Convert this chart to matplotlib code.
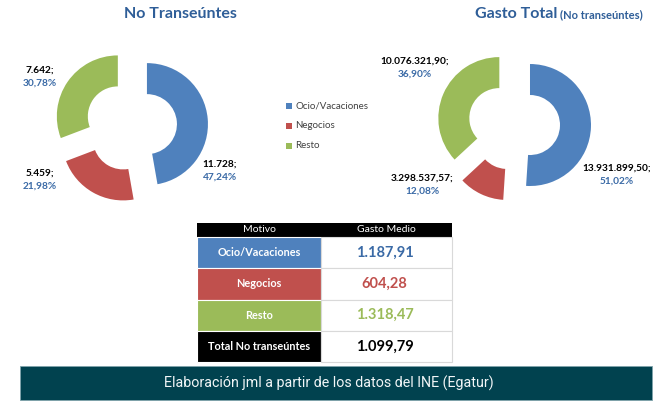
import matplotlib
matplotlib.use("Agg")
import matplotlib.pyplot as plt
from matplotlib.patches import Rectangle

# ---- data ----
categories = ["Ocio/Vacaciones", "Negocios", "Resto"]
visitors = [11728, 5459, 7642]
visitor_labels = ["11.728;", "5.459;", "7.642;"]
visitor_pct = ["47,24%", "21,98%", "30,78%"]
spend = [13931899.50, 3298537.57, 10076321.90]
spend_labels = ["13.931.899,50;", "3.298.537,57;", "10.076.321,90;"]
spend_pct = ["51,02%", "12,08%", "36,90%"]
table_rows = ["Ocio/Vacaciones", "Negocios", "Resto", "Total No transeúntes"]
table_values = ["1.187,91", "604,28", "1.318,47", "1.099,79"]
table_header = ["Motivo", "Gasto Medio"]
source_text = "Elaboración jml a partir de los datos del INE (Egatur)"

# ---- style ----
colors = ["#4F81BD", "#C0504D", "#9BBB59"]
title_blue = "#2F5E98"
pct_blue = "#3A6AA6"
FONT = ["Lato", "DejaVu Sans"]
plt.rcParams["font.family"] = FONT

W, H = 672, 403
fig = plt.figure(figsize=(W / 100, H / 100), dpi=100)
ax = fig.add_axes([0, 0, 1, 1])

def Y(y):
    return H - y

R = 61
WIDTH = 31
EXP = 16

# left donut
ax.pie(visitors, center=(131, Y(125.5)), radius=R, startangle=90, counterclock=False,
       colors=colors, explode=[EXP] * 3, wedgeprops=dict(width=WIDTH, linewidth=0),
       frame=True)
# right donut
ax.pie(spend, center=(514, Y(124.5)), radius=R, startangle=90, counterclock=False,
       colors=colors, explode=[EXP] * 3, wedgeprops=dict(width=WIDTH, linewidth=0),
       frame=True)

ax.set_xlim(0, W)
ax.set_ylim(0, H)
ax.set_aspect("auto")
ax.axis("off")

# titles
ax.text(180, Y(14), "No Transeúntes", ha="center", va="center", fontsize=11.5,
        fontweight="bold", color=title_blue)
ax.text(557, Y(14), "Gasto Total", ha="right", va="center", fontsize=11.5,
        fontweight="bold", color=title_blue)
ax.text(560, Y(15), "(No transeúntes)", ha="left", va="center", fontsize=8,
        fontweight="bold", color=title_blue)

# data labels
lpos_left = [(220, 164), (40, 173), (40, 70)]
lpos_right = [(617, 168), (422, 178), (415, 61)]
for (x, y), a, b in zip(lpos_left, visitor_labels, visitor_pct):
    ax.text(x, Y(y), a, ha="center", va="center", fontsize=7.3, fontweight="bold", color="black")
    ax.text(x, Y(y + 13), b, ha="center", va="center", fontsize=7.3, fontweight="bold", color=pct_blue)
for (x, y), a, b in zip(lpos_right, spend_labels, spend_pct):
    ax.text(x, Y(y), a, ha="center", va="center", fontsize=7.3, fontweight="bold", color="black")
    ax.text(x, Y(y + 13), b, ha="center", va="center", fontsize=7.3, fontweight="bold", color=pct_blue)

# legend
for i, (cat, c) in enumerate(zip(categories, colors)):
    yy = 106 + 20 * i
    ax.add_patch(Rectangle((286, Y(yy) - 3), 6, 6, facecolor=c, edgecolor="none"))
    ax.text(295, Y(yy), cat, ha="left", va="center", fontsize=7, color="#404040")

# table
x0, xm, x1 = 197, 321, 452
ax.add_patch(Rectangle((x0, Y(237)), x1 - x0, 14, facecolor="black", edgecolor="none"))
ax.text((x0 + xm) / 2, Y(230), table_header[0], ha="center", va="center", fontsize=7.5, color="white")
ax.text((xm + x1) / 2, Y(230), table_header[1], ha="center", va="center", fontsize=7.5, color="white")
row_colors = colors + ["black"]
value_colors = [pct_blue, colors[1], colors[2], "black"]
rh = (362 - 237) / 4
for i, (lab, val) in enumerate(zip(table_rows, table_values)):
    top = 237 + i * rh
    ax.add_patch(Rectangle((x0, Y(top + rh)), xm - x0, rh, facecolor=row_colors[i],
                           edgecolor="white", linewidth=0.8))
    ax.add_patch(Rectangle((xm, Y(top + rh)), x1 - xm, rh, facecolor="white",
                           edgecolor="#D9D9D9", linewidth=0.8))
    cy = top + rh / 2
    ax.text((x0 + xm) / 2, Y(cy), lab, ha="center", va="center", fontsize=7.8,
            fontweight="bold", color="white")
    ax.text((xm + x1) / 2 - 2, Y(cy), val, ha="center", va="center", fontsize=10.5,
            fontweight="bold", color=value_colors[i])

# footer
ax.add_patch(Rectangle((20, Y(400)), 632, 34, facecolor="#01424F", edgecolor="#7FA3AB", linewidth=0.6))
ax.text(329, Y(383), source_text, ha="center", va="center", fontsize=10.3,
        color="#F2F6F7", family=["Roboto", "DejaVu Sans"], fontweight="normal")

fig.savefig("out.png", dpi=100)
